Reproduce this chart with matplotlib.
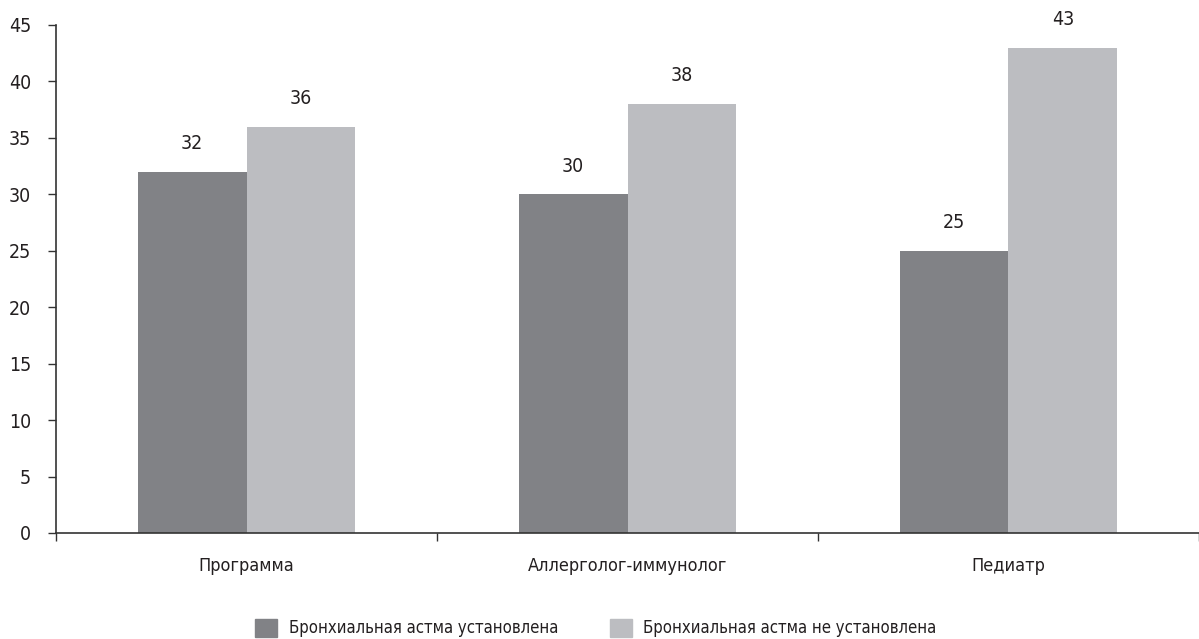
import matplotlib.pyplot as plt
import numpy as np
from matplotlib.patches import Patch

categories = ["Программа", "Аллерголог-иммунолог", "Педиатр"]
series_names = ["Бронхиальная астма установлена", "Бронхиальная астма не установлена"]
established = [32, 30, 25]
not_established = [36, 38, 43]

dark = "#818286"
light = "#bcbdc1"
txt = "#231f20"

plt.rcParams["font.family"] = ["DejaVu Sans"]
plt.rcParams["font.stretch"] = "condensed"

fig = plt.figure(figsize=(11.99, 6.39), dpi=100)
ax = fig.add_axes([56 / 1199, 106 / 639, 1 - 56 / 1199, 508 / 639])

x = np.arange(len(categories))
w = 0.286
b1 = ax.bar(x - w / 2, established, w, color=dark)
b2 = ax.bar(x + w / 2, not_established, w, color=light)

for bars, vals in ((b1, established), (b2, not_established)):
    for bar, v in zip(bars, vals):
        ax.text(bar.get_x() + bar.get_width() / 2, v + 1.65, str(v),
                ha="center", va="bottom", fontsize=14, color=txt)

ax.set_xlim(-0.5, -0.5 + 1143 / 384)
ax.set_ylim(0, 45)
ax.set_yticks(range(0, 46, 5))
ax.set_xticks([-0.5, 0.5, 1.5, 2.5])
ax.set_xticklabels([])
ax.tick_params(axis="x", direction="out", length=6, width=1, color="#333333")
ax.tick_params(axis="y", direction="out", length=6, width=1, color="#333333",
               labelsize=14, labelcolor=txt, pad=12)

for i, c in enumerate(categories):
    ax.text(i, -2.9, c, ha="center", va="center", fontsize=13, color=txt)

for s in ("top", "right"):
    ax.spines[s].set_visible(False)
for s in ("left", "bottom"):
    ax.spines[s].set_color("#333333")
    ax.spines[s].set_linewidth(1.2)

handles = [Patch(color=dark), Patch(color=light)]
fig.legend(handles, series_names, loc="center", bbox_to_anchor=(0.497, 11 / 639),
           ncol=2, frameon=False, fontsize=12, handlelength=1.32, handleheight=1.32,
           columnspacing=3.1, handletextpad=0.7, labelcolor=txt)

fig.savefig("out.png", dpi=100, facecolor="white")
